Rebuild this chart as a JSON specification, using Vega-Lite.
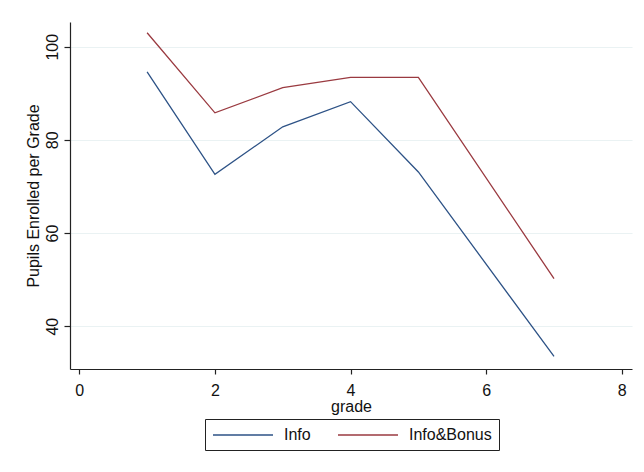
{
  "$schema": "https://vega.github.io/schema/vega-lite/v6.json",
  "autosize": "none",
  "width": 562,
  "height": 347,
  "padding": {"left": 70, "top": 22, "right": 12, "bottom": 103},
  "background": "white",
  "config": {
    "font": "Liberation Sans",
    "view": {"stroke": null},
    "axis": {
      "domainColor": "#222222",
      "domainWidth": 1.2,
      "tickColor": "#222222",
      "tickWidth": 1.2,
      "labelColor": "#111111",
      "titleColor": "#111111",
      "labelFontSize": 16,
      "titleFontSize": 16,
      "titleFontWeight": "normal",
      "gridColor": "#eaf2f3",
      "gridWidth": 1.2
    }
  },
  "data": {
    "values": [
      {"grade": 1, "value": 94.6, "group": "Info"},
      {"grade": 2, "value": 72.6, "group": "Info"},
      {"grade": 3, "value": 82.8, "group": "Info"},
      {"grade": 4, "value": 88.2, "group": "Info"},
      {"grade": 5, "value": 73.1, "group": "Info"},
      {"grade": 7, "value": 33.5, "group": "Info"},
      {"grade": 1, "value": 103.0, "group": "Info&Bonus"},
      {"grade": 2, "value": 85.8, "group": "Info&Bonus"},
      {"grade": 3, "value": 91.2, "group": "Info&Bonus"},
      {"grade": 4, "value": 93.4, "group": "Info&Bonus"},
      {"grade": 5, "value": 93.4, "group": "Info&Bonus"},
      {"grade": 7, "value": 50.2, "group": "Info&Bonus"}
    ]
  },
  "mark": {"type": "line", "strokeWidth": 1.3},
  "encoding": {
    "x": {
      "field": "grade",
      "type": "quantitative",
      "scale": {"domain": [-0.137, 8.15], "nice": false, "zero": false},
      "axis": {
        "values": [0, 2, 4, 6, 8],
        "grid": false,
        "tickSize": 5,
        "labelPadding": 8,
        "title": "grade",
        "titlePadding": 0
      }
    },
    "y": {
      "field": "value",
      "type": "quantitative",
      "scale": {"domain": [30.8, 105.3], "nice": false, "zero": false},
      "axis": {
        "values": [40, 60, 80, 100],
        "grid": true,
        "tickSize": 6,
        "labelAngle": 270,
        "labelAlign": "center",
        "labelBaseline": "alphabetic",
        "labelPadding": 7,
        "title": "Pupils Enrolled per Grade",
        "titlePadding": 3
      }
    },
    "color": {
      "field": "group",
      "type": "nominal",
      "scale": {"domain": ["Info", "Info&Bonus"], "range": ["#2d5286", "#9a3a40"]},
      "legend": {
        "title": null,
        "orient": "none",
        "legendX": 135,
        "legendY": 397,
        "direction": "horizontal",
        "strokeColor": "#222222",
        "padding": 7,
        "symbolType": "M-1,0L6.5,0",
        "symbolSize": 256,
        "symbolStrokeWidth": 1.3,
        "labelFontSize": 16,
        "labelColor": "#111111",
        "labelOffset": 54,
        "columnPadding": 24
      }
    }
  }
}
